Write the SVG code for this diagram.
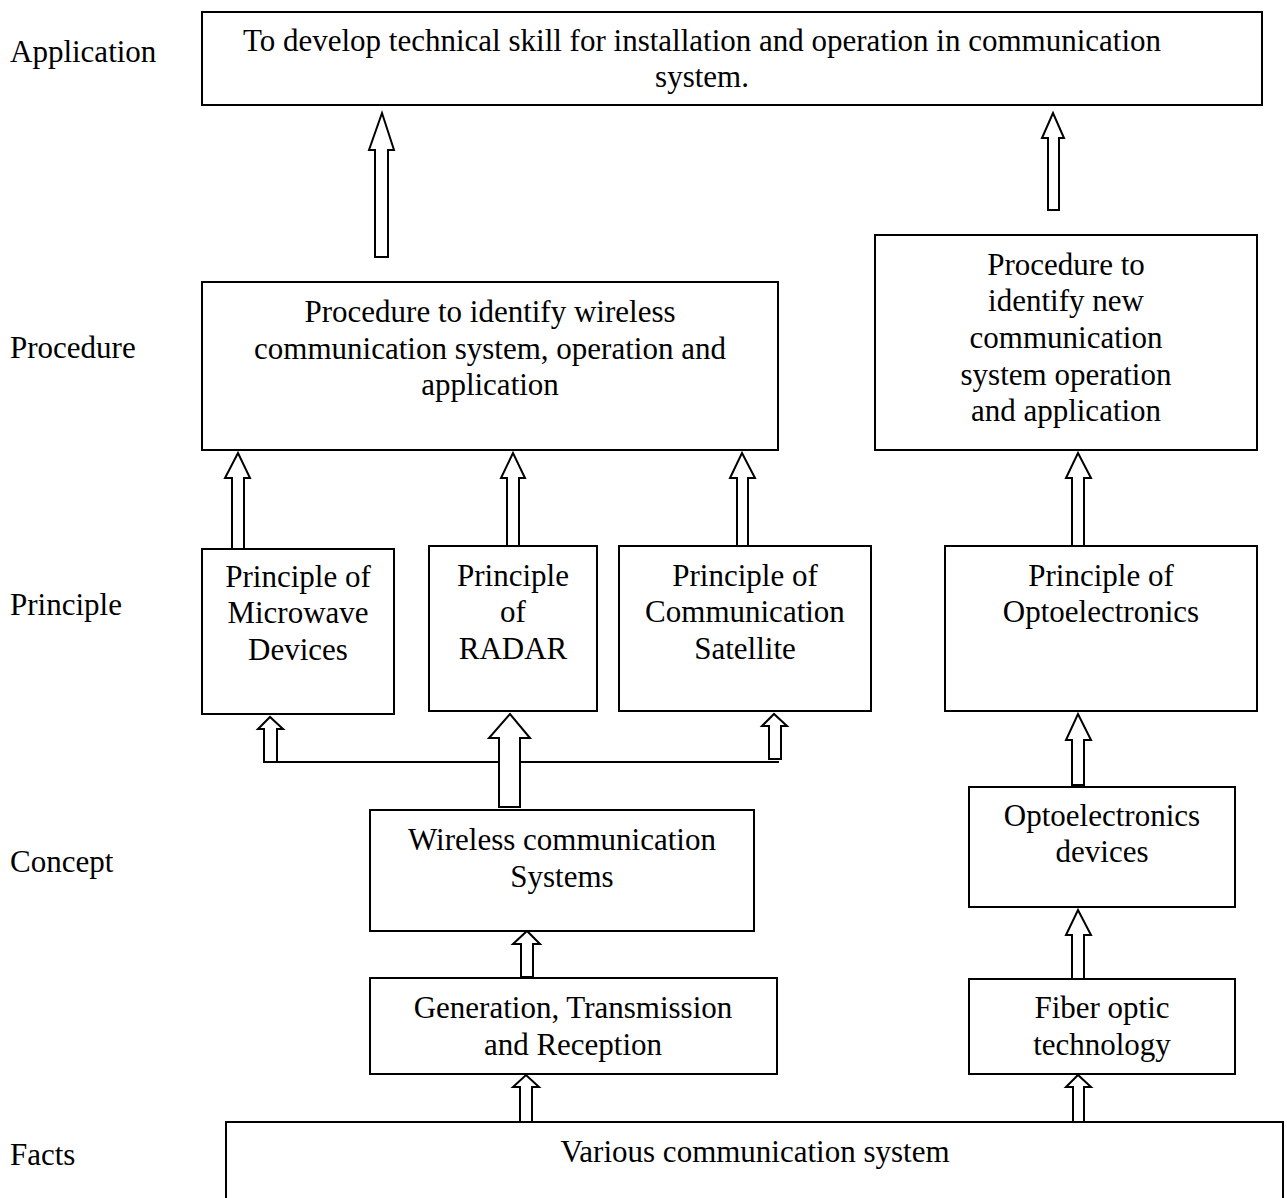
<svg xmlns="http://www.w3.org/2000/svg" width="1287" height="1198" viewBox="0 0 1287 1198">
<style>
.box{fill:#fff;stroke:#000;stroke-width:2}
.arr{fill:#fff;stroke:#000;stroke-width:2;stroke-linejoin:miter}
.ln{fill:none;stroke:#000;stroke-width:2}
text{font-family:"Liberation Serif","Times New Roman",serif;font-size:31px;fill:#000}
.c{text-anchor:middle}
</style>
<rect width="1287" height="1198" fill="#fff"/>
<g id="labels">
<text x="10" y="62">Application</text>
<text x="10" y="358">Procedure</text>
<text x="10" y="615">Principle</text>
<text x="10" y="872">Concept</text>
<text x="10" y="1165">Facts</text>
</g>
<g id="connectors">
<path class="arr" d="M375,257 V150 H369 L382,113 L394,150 H388 V257 Z"/>
<path class="arr" d="M1048,210 V138 H1042 L1053,113 L1064,138 H1059 V210 Z"/>
<path class="arr" d="M232,549 V478 H225 L238,453 L250,478 H244 V549 Z"/>
<path class="arr" d="M507,546 V478 H501 L513,453 L525,478 H519 V546 Z"/>
<path class="arr" d="M737,546 V478 H730 L742,453 L755,478 H748 V546 Z"/>
<path class="arr" d="M1072,546 V478 H1066 L1078,453 L1091,478 H1084 V546 Z"/>
<path class="arr" d="M264,762 V729 H258 L270,717 L283,729 H277 V762 Z"/>
<path class="arr" d="M769,759 V726 H762 L774,714 L787,726 H781 V759 Z"/>
<path class="ln" d="M264,762 H779"/>
<path class="arr" d="M499,807 V738 H489 L510,714 L530,738 H520 V807 Z"/>
<path class="arr" d="M1072,785 V740 H1066 L1078,714 L1091,740 H1084 V785 Z"/>
<path class="arr" d="M521,977 V944 H513 L527,931 L540,944 H533 V977 Z"/>
<path class="arr" d="M1072,979 V935 H1066 L1078,910 L1091,935 H1084 V979 Z"/>
<path class="arr" d="M520,1122 V1087 H513 L526,1075 L539,1087 H532 V1122 Z"/>
<path class="arr" d="M1073,1122 V1087 H1066 L1078,1075 L1091,1087 H1084 V1122 Z"/>
</g>
<g id="app">
<rect class="box" x="202" y="12" width="1060" height="93"/>
<text class="c" x="702" y="51">To develop technical skill for installation and operation in communication</text>
<text class="c" x="702" y="87">system.</text>
</g>
<g id="proc-left">
<rect class="box" x="202" y="282" width="576" height="168"/>
<text class="c" x="490" y="322">Procedure to identify wireless</text>
<text class="c" x="490" y="359">communication system, operation and</text>
<text class="c" x="490" y="395">application</text>
</g>
<g id="proc-right">
<rect class="box" x="875" y="235" width="382" height="215"/>
<text class="c" x="1066" y="275">Procedure to</text>
<text class="c" x="1066" y="311">identify new</text>
<text class="c" x="1066" y="348">communication</text>
<text class="c" x="1066" y="385">system operation</text>
<text class="c" x="1066" y="421">and application</text>
</g>
<g id="microwave">
<rect class="box" x="202" y="549" width="192" height="165"/>
<text class="c" x="298" y="587">Principle of</text>
<text class="c" x="298" y="623">Microwave</text>
<text class="c" x="298" y="660">Devices</text>
</g>
<g id="radar">
<rect class="box" x="429" y="546" width="168" height="165"/>
<text class="c" x="513" y="586">Principle</text>
<text class="c" x="513" y="622">of</text>
<text class="c" x="513" y="659">RADAR</text>
</g>
<g id="commsat">
<rect class="box" x="619" y="546" width="252" height="165"/>
<text class="c" x="745" y="586">Principle of</text>
<text class="c" x="745" y="622">Communication</text>
<text class="c" x="745" y="659">Satellite</text>
</g>
<g id="opto-principle">
<rect class="box" x="945" y="546" width="312" height="165"/>
<text class="c" x="1101" y="586">Principle of</text>
<text class="c" x="1101" y="622">Optoelectronics</text>
</g>
<g id="wireless">
<rect class="box" x="370" y="810" width="384" height="121"/>
<text class="c" x="562" y="850">Wireless communication</text>
<text class="c" x="562" y="887">Systems</text>
</g>
<g id="opto-devices">
<rect class="box" x="969" y="787" width="266" height="120"/>
<text class="c" x="1102" y="826">Optoelectronics</text>
<text class="c" x="1102" y="862">devices</text>
</g>
<g id="generation">
<rect class="box" x="370" y="978" width="407" height="96"/>
<text class="c" x="573" y="1018">Generation, Transmission</text>
<text class="c" x="573" y="1055">and Reception</text>
</g>
<g id="fiber">
<rect class="box" x="969" y="979" width="266" height="95"/>
<text class="c" x="1102" y="1018">Fiber optic</text>
<text class="c" x="1102" y="1055">technology</text>
</g>
<g id="facts">
<rect class="box" x="226" y="1122" width="1057" height="100"/>
<text class="c" x="755" y="1162">Various communication system</text>
</g>
</svg>
